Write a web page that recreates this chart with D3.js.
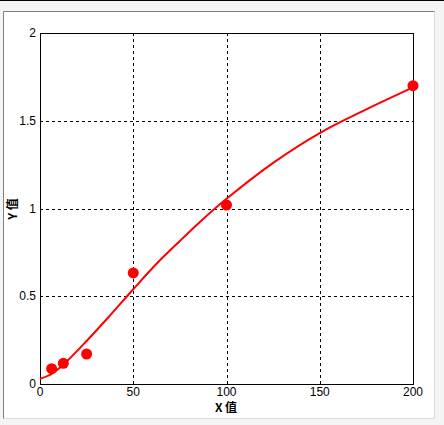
<!DOCTYPE html>
<html>
<head>
<meta charset="utf-8">
<script src="https://cdn.jsdelivr.net/npm/d3@7"></script>
<style>
  body { margin: 0; background: #f4f4f4; }
  svg { display: block; }
</style>
</head>
<body>
<script>
var w = 444;
var h = 425;

// measured points
var xValues = [6.25, 12.5, 25, 50, 100, 200];
var yValues = [0.087, 0.118, 0.171, 0.633, 1.02, 1.70];

// fitted curve
var curveX = [0, 6.25, 12.5, 25, 37.5, 50, 62.5, 75, 87.5, 100, 125, 150, 175, 200];
var curveY = [0.03, 0.057, 0.11, 0.245, 0.39, 0.54, 0.685, 0.815, 0.94, 1.055, 1.26, 1.43, 1.565, 1.69];

var xTicks = [0, 50, 100, 150, 200];
var yTicks = [0, 0.5, 1, 1.5, 2];

var margin = { left: 40, top: 33, right: 413, bottom: 384 };

var svg = d3.select("body")
    .append("svg")
    .attr("width", w)
    .attr("height", h);

// window frame
svg.append("rect").attr("x", 0).attr("y", 0).attr("width", w).attr("height", 1).attr("fill", "#000");
svg.append("rect")
    .attr("x", 3.5).attr("y", 11.5)
    .attr("width", 431).attr("height", 407)
    .attr("fill", "#fff")
    .attr("stroke", "#dcdcdc");
svg.append("path")
    .attr("d", "M3.5,418.5V11.5H434.5")
    .attr("fill", "none")
    .attr("stroke", "#808080");

var x = d3.scaleLinear().domain([0, 200]).range([margin.left, margin.right]);
var y = d3.scaleLinear().domain([0, 2]).range([margin.bottom, margin.top]);

// grid
svg.selectAll(".vgrid")
    .data(xTicks.slice(1, -1))
    .enter()
    .append("line")
    .attr("x1", d => Math.round(x(d)) + 0.5)
    .attr("x2", d => Math.round(x(d)) + 0.5)
    .attr("y1", margin.top)
    .attr("y2", margin.bottom)
    .attr("stroke", "#000")
    .attr("stroke-dasharray", "3,3");

svg.selectAll(".hgrid")
    .data(yTicks.slice(1, -1))
    .enter()
    .append("line")
    .attr("y1", d => Math.round(y(d)) + 0.5)
    .attr("y2", d => Math.round(y(d)) + 0.5)
    .attr("x1", margin.left)
    .attr("x2", margin.right)
    .attr("stroke", "#000")
    .attr("stroke-dasharray", "3,3");

// frame of the plot
svg.append("rect")
    .attr("x", margin.left + 0.5)
    .attr("y", margin.top + 0.5)
    .attr("width", margin.right - margin.left)
    .attr("height", margin.bottom - margin.top)
    .attr("fill", "none")
    .attr("stroke", "#000");

// tick labels
svg.selectAll(".xlab")
    .data(xTicks)
    .enter()
    .append("text")
    .attr("x", d => x(d))
    .attr("y", 396)
    .attr("text-anchor", "middle")
    .attr("font-family", "Liberation Sans, Arial, sans-serif")
    .attr("font-size", 12)
    .text(d => d);

svg.selectAll(".ylab")
    .data(yTicks)
    .enter()
    .append("text")
    .attr("x", 36)
    .attr("y", d => y(d) + 4)
    .attr("text-anchor", "end")
    .attr("font-family", "Liberation Sans, Arial, sans-serif")
    .attr("font-size", 12)
    .text(d => d);

// axis titles
svg.append("text")
    .attr("x", 226)
    .attr("y", 412)
    .attr("text-anchor", "middle")
    .attr("font-family", "Noto Sans CJK SC, sans-serif")
    .attr("font-weight", "bold")
    .attr("font-size", 12)
    .text("X 值");

svg.append("text")
    .attr("transform", "translate(17,209) rotate(-90)")
    .attr("text-anchor", "middle")
    .attr("font-family", "Noto Sans CJK SC, sans-serif")
    .attr("font-weight", "bold")
    .attr("font-size", 12)
    .text("Y 值");

// curve
var line = d3.line()
    .x(d => x(d[0]))
    .y(d => y(d[1]))
    .curve(d3.curveCatmullRom);

svg.append("path")
    .datum(d3.zip(curveX, curveY))
    .attr("d", line)
    .attr("fill", "none")
    .attr("stroke", "#ff0000")
    .attr("stroke-width", 2);

// points
svg.selectAll(".pt")
    .data(d3.zip(xValues, yValues))
    .enter()
    .append("circle")
    .attr("cx", d => x(d[0]))
    .attr("cy", d => y(d[1]))
    .attr("r", 5.5)
    .attr("fill", "#ff0000");
</script>
</body>
</html>
